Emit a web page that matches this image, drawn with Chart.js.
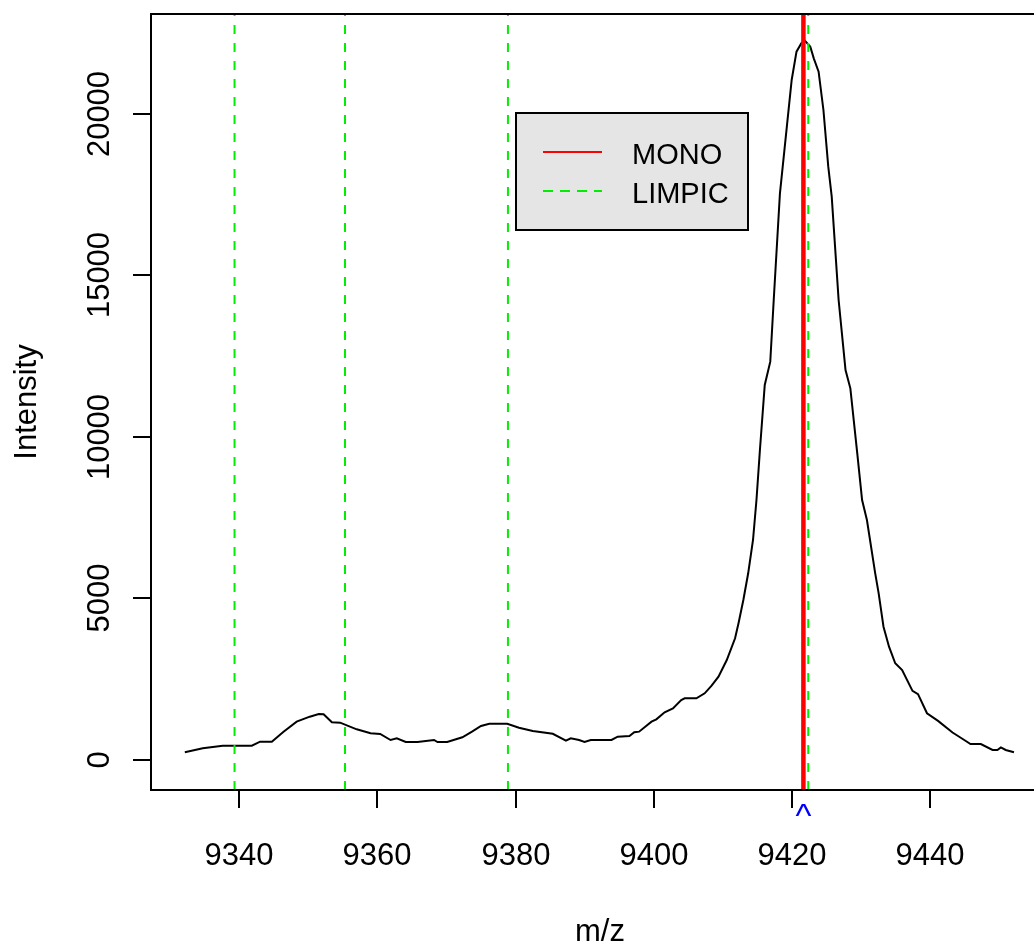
<!DOCTYPE html>
<html>
<head>
<meta charset="utf-8">
<script src="https://cdn.jsdelivr.net/npm/chart.js@4/dist/chart.umd.min.js"></script>
<style>
  body { margin: 0; background: #fff; }
  #spec { display: block; }
</style>
</head>
<body>
<canvas id="spec" width="1034" height="948"></canvas>
<script>
// spectrum
const mz = [9332.1, 9334.7, 9337.6, 9341.8, 9343.0, 9344.7, 9346.4, 9348.3, 9350.2, 9351.5,
  9352.2, 9353.4, 9354.6, 9357.0, 9359.0, 9360.4, 9361.9, 9362.8, 9364.1, 9365.8,
  9368.2, 9368.7, 9370.1, 9372.3, 9373.7, 9375.0, 9376.2, 9378.8, 9380.5, 9382.5,
  9385.4, 9387.3, 9388.0, 9389.2, 9390.0, 9390.9, 9393.9, 9394.8, 9396.5, 9397.2,
  9397.9, 9399.7, 9400.4, 9401.6, 9402.8, 9404.0, 9404.5, 9406.2, 9407.4, 9408.4,
  9409.4, 9410.6, 9411.8, 9412.3, 9413.0, 9413.7, 9414.4, 9414.9, 9415.4, 9416.1,
  9416.9, 9417.4, 9418.3, 9419.3, 9420.0, 9420.7, 9421.4, 9421.9, 9422.7, 9423.2,
  9423.9, 9424.6, 9425.3, 9425.8, 9426.8, 9427.8, 9428.5, 9429.5, 9430.2, 9430.9,
  9432.1, 9432.6, 9433.3, 9434.1, 9435.0, 9436.0, 9437.5, 9438.3, 9439.6, 9441.2,
  9443.3, 9445.0, 9445.9, 9447.4, 9449.1, 9449.8, 9450.3, 9451.0, 9452.2];
const intensity = [238, 362, 443, 443, 567, 567, 877, 1187, 1341, 1424,
  1414, 1166, 1156, 950, 826, 805, 619, 671, 557, 557,
  619, 557, 557, 702, 877, 1053, 1124, 1124, 1000, 900,
  810, 598, 671, 619, 557, 619, 619, 722, 743, 857,
  877, 1187, 1259, 1476, 1599, 1858, 1909, 1909, 2064, 2300,
  2580, 3096, 3767, 4232, 4954, 5780, 6811, 8050, 9598, 11610,
  12333, 14242, 17545, 19610, 21053, 21929, 22189, 22270, 22084, 21723,
  21310, 20124, 18369, 17440, 14242, 12074, 11507, 9495, 8050, 7430,
  5780, 5161, 4127, 3508, 2994, 2786, 2140, 2040, 1446, 1210,
  850, 619, 495, 495, 310, 310, 392, 310, 238];

const monoPeaks = [9421.7];
const limpicPeaks = [9339.3, 9355.3, 9378.9, 9422.4];

const xTicks = [9340, 9360, 9380, 9400, 9420, 9440];
const yTicks = [0, 5000, 10000, 15000, 20000];
const legendNames = ['MONO', 'LIMPIC'];

const xMin = 9327.2, xMax = 9455.1;
const yMin = -929, yMax = 23096;
const family = '"Liberation Sans", Arial, sans-serif';

function vline(v) {
  return [{x: v, y: yMin}, {x: v, y: yMax}];
}

const datasets = [{
  data: mz.map((m, i) => ({x: m, y: intensity[i]})),
  borderColor: '#000',
  borderWidth: 2,
  pointRadius: 0,
  showLine: true,
  order: 3
}];
monoPeaks.forEach(v => datasets.push({
  data: vline(v), borderColor: '#ff0000', borderWidth: 4.5,
  pointRadius: 0, showLine: true, order: 2
}));
limpicPeaks.forEach(v => datasets.push({
  data: vline(v), borderColor: '#00ee00', borderWidth: 2, borderDash: [9, 9],
  pointRadius: 0, showLine: true, order: 1
}));

// R style box, ticks, labels and legend
const baseAxes = {
  id: 'baseAxes',
  afterDraw(chart) {
    const c = chart.ctx, a = chart.chartArea;
    const sx = chart.scales.x, sy = chart.scales.y;
    c.save();
    c.strokeStyle = '#000';
    c.lineWidth = 2;
    c.beginPath();
    c.moveTo(a.right + 2, a.top); c.lineTo(a.left, a.top);
    c.lineTo(a.left, a.bottom); c.lineTo(a.right + 2, a.bottom);
    c.stroke();

    c.font = '31px ' + family;
    c.fillStyle = '#000';
    c.textAlign = 'center';
    c.textBaseline = 'middle';
    xTicks.forEach(t => {
      const px = Math.round(sx.getPixelForValue(t));
      c.beginPath(); c.moveTo(px, a.bottom); c.lineTo(px, a.bottom + 18); c.stroke();
      c.fillText(String(t), px, 856);
    });
    yTicks.forEach(t => {
      const py = Math.round(sy.getPixelForValue(t));
      c.beginPath(); c.moveTo(a.left, py); c.lineTo(a.left - 18, py); c.stroke();
      c.save();
      c.translate(100, py);
      c.rotate(-Math.PI / 2);
      c.fillText(String(t), 0, 0);
      c.restore();
    });

    // axis titles
    c.fillText('m/z', 600, 932);
    c.save();
    c.translate(27, (a.top + a.bottom) / 2);
    c.rotate(-Math.PI / 2);
    c.fillText('Intensity', 0, 0);
    c.restore();

    // mono marker under the axis
    c.font = '34px ' + family;
    c.fillStyle = '#0000ff';
    c.textBaseline = 'alphabetic';
    monoPeaks.forEach(v => c.fillText('^', sx.getPixelForValue(v), 827));

    // legend
    c.font = '29px ' + family;
    c.fillStyle = '#e5e5e5';
    c.fillRect(516, 113, 232, 117);
    c.strokeRect(516, 113, 232, 117);
    c.lineWidth = 2;
    c.strokeStyle = '#ff0000';
    c.beginPath(); c.moveTo(543, 152); c.lineTo(602, 152); c.stroke();
    c.strokeStyle = '#00ee00';
    c.setLineDash([10, 7]);
    c.beginPath(); c.moveTo(543, 191); c.lineTo(602, 191); c.stroke();
    c.setLineDash([]);
    c.fillStyle = '#000';
    c.textAlign = 'left';
    c.textBaseline = 'middle';
    c.fillText(legendNames[0], 632, 156);
    c.fillText(legendNames[1], 632, 195);
    c.restore();
  }
};

const chart = new Chart(document.getElementById('spec'), {
  type: 'scatter',
  data: { datasets: datasets },
  options: {
    responsive: false,
    animation: false,
    layout: { padding: { left: 151, top: 14, right: 0, bottom: 158 } },
    scales: {
      x: { type: 'linear', min: xMin, max: xMax, display: false },
      y: { type: 'linear', min: yMin, max: yMax, display: false }
    },
    plugins: {
      legend: { display: false },
      tooltip: { enabled: false }
    }
  },
  plugins: [baseAxes]
});
</script>
</body>
</html>
